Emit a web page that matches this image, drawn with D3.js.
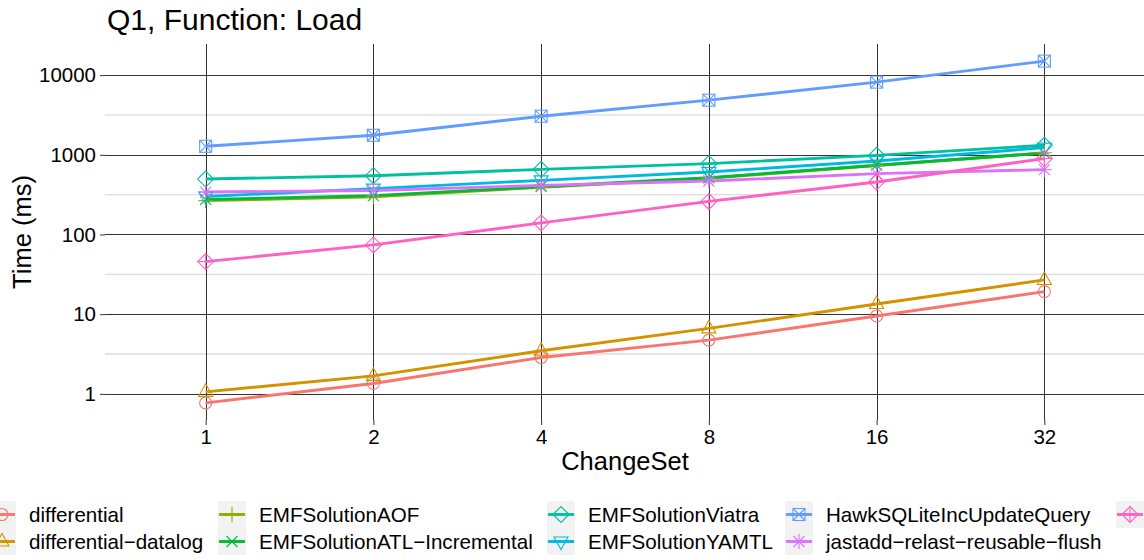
<!DOCTYPE html>
<html lang="en">
<head>
  <meta charset="UTF-8">
  <title>Q1, Function: Load</title>
  <script src="https://d3js.org/d3.v7.min.js"></script>
  <style>
    body { margin: 0; background: #fff; }
    text { font-family: "Liberation Sans", Arial, sans-serif; }
  </style>
</head>
<body>
  <div id="chart"></div>

  <script>
    // Data (Time in ms per ChangeSet)
    const changeSets = ["1", "2", "4", "8", "16", "32"];
    const seriesNames = [
      "differential", "differential\u2212datalog", "EMFSolutionAOF",
      "EMFSolutionATL\u2212Incremental", "EMFSolutionViatra", "EMFSolutionYAMTL",
      "HawkSQLiteIncUpdateQuery", "jastadd\u2212relast\u2212reusable\u2212flush",
      "NMF\u2212Incremental"
    ];
    const differential        = [0.77, 1.35, 2.86, 4.73, 9.49, 19.2];
    const differentialDatalog = [1.06, 1.68, 3.47, 6.63, 13.4, 26.9];
    const emfAOF              = [266, 298, 392, 508, 735, 1060];
    const emfATL              = [275, 307, 398, 515, 740, 1050];
    const emfViatra           = [496, 547, 657, 775, 985, 1316];
    const emfYAMTL            = [300, 376, 478, 608, 836, 1232];
    const hawk                = [1280, 1760, 3050, 4850, 8170, 15000];
    const jastaddFlush        = [341, 357, 413, 469, 580, 651];
    const nmf                 = [45.7, 74, 140, 260, 455, 896];
    const yTicks = [1, 10, 100, 1000, 10000];

    const allValues = [differential, differentialDatalog, emfAOF, emfATL, emfViatra,
                       emfYAMTL, hawk, jastaddFlush, nmf];
    const colors = ["#F8766D", "#D39200", "#93AA00", "#00BA38", "#00C19F",
                    "#00B9E3", "#619CFF", "#DB72FB", "#FF61C3"];

    const W = 1144, H = 560;
    const panel = {left: 105, right: 1145, top: 44, bottom: 420};

    const svg = d3.select("#chart").append("svg")
      .attr("width", W).attr("height", H)
      .style("display", "block");

    // discrete x, like ggplot (0.6 unit padding)
    const x = d3.scalePoint().domain(changeSets)
      .range([panel.left, panel.right]).padding(0.6);

    // log y with 5% expansion in log space
    const flat = allValues.flat();
    const lo = Math.log10(d3.min(flat)), hi = Math.log10(d3.max(flat));
    const pad = (hi - lo) * 0.05;
    const y = d3.scaleLog().domain([Math.pow(10, lo - pad), Math.pow(10, hi + pad)])
      .range([panel.bottom, panel.top]);

    // minor grid (half decades)
    const minor = d3.range(-1, 5).map(e => Math.pow(10, e + 0.5))
      .filter(v => y(v) > panel.top && y(v) < panel.bottom);
    svg.append("g").selectAll("line").data(minor).join("line")
      .attr("x1", panel.left).attr("x2", panel.right)
      .attr("y1", d => y(d)).attr("y2", d => y(d))
      .attr("stroke", "#dcdcdc").attr("stroke-width", 1.3);

    // major grid
    svg.append("g").selectAll("line").data(yTicks).join("line")
      .attr("x1", panel.left).attr("x2", panel.right)
      .attr("y1", d => Math.round(y(d)) + 0.5).attr("y2", d => Math.round(y(d)) + 0.5)
      .attr("stroke", "#333").attr("stroke-width", 1);
    svg.append("g").selectAll("line").data(changeSets).join("line")
      .attr("x1", d => Math.round(x(d)) + 0.5).attr("x2", d => Math.round(x(d)) + 0.5)
      .attr("y1", panel.top).attr("y2", panel.bottom)
      .attr("stroke", "#333").attr("stroke-width", 1);

    // axes
    const yAxis = svg.append("g")
      .attr("transform", `translate(${panel.left},0)`)
      .call(d3.axisLeft(y).tickValues(yTicks).tickFormat(d3.format("d"))
        .tickSize(5).tickPadding(4));
    const xAxis = svg.append("g")
      .attr("transform", `translate(0,${panel.bottom})`)
      .call(d3.axisBottom(x).tickSize(5).tickPadding(4));
    [yAxis, xAxis].forEach(a => {
      a.select(".domain").remove();
      a.selectAll(".tick line").attr("stroke", "#333");
      a.selectAll(".tick text").attr("fill", "#000")
        .style("font-size", "20.5px")
        .style("font-family", "'Liberation Sans', Arial, sans-serif");
    });

    // shape drawing, ggplot shapes 1..9
    function drawShape(g, i, color) {
      const s = g.append("g").attr("fill", "none").attr("stroke", color).attr("stroke-width", 1.1);
      const r = 6;
      const cross = (k) => {
        s.append("line").attr("x1", -k).attr("y1", -k).attr("x2", k).attr("y2", k);
        s.append("line").attr("x1", -k).attr("y1", k).attr("x2", k).attr("y2", -k);
      };
      const plus = (k) => {
        s.append("line").attr("x1", -k).attr("y1", 0).attr("x2", k).attr("y2", 0);
        s.append("line").attr("x1", 0).attr("y1", -k).attr("x2", 0).attr("y2", k);
      };
      const diamond = (k) => s.append("path").attr("d", `M0,${-k}L${k},0L0,${k}L${-k},0Z`);
      switch (i) {
        case 0: s.append("circle").attr("r", r); break;
        case 1: s.append("path").attr("d", "M0,-8L7,4.5L-7,4.5Z"); break;
        case 2: plus(7.5); break;
        case 3: cross(5.5); break;
        case 4: diamond(8); break;
        case 5: s.append("path").attr("d", "M0,8L7,-4.5L-7,-4.5Z"); break;
        case 6: s.append("rect").attr("x", -6).attr("y", -6).attr("width", 12).attr("height", 12); cross(6); break;
        case 7: plus(7.5); cross(5.5); break;
        case 8: diamond(8); plus(8); break;
      }
    }

    const line = d3.line().x((d, j) => x(changeSets[j])).y(d => y(d));

    // lines
    allValues.forEach((vals, i) => {
      svg.append("path").datum(vals)
        .attr("fill", "none").attr("stroke", colors[i])
        .attr("stroke-width", 2.9).attr("stroke-linejoin", "round")
        .attr("d", line);
    });
    // points
    allValues.forEach((vals, i) => {
      vals.forEach((v, j) => {
        const g = svg.append("g").attr("transform", `translate(${x(changeSets[j])},${y(v)})`);
        drawShape(g, i, colors[i]);
      });
    });

    // title and axis titles
    svg.append("text").attr("x", 107).attr("y", 30)
      .style("font-size", "30px").attr("fill", "#000").text("Q1, Function: Load");
    svg.append("text").attr("x", (panel.left + panel.right) / 2).attr("y", 470)
      .attr("text-anchor", "middle").style("font-size", "25.5px").attr("fill", "#000")
      .text("ChangeSet");
    svg.append("text")
      .attr("transform", `translate(31,${(panel.top + panel.bottom) / 2}) rotate(-90)`)
      .attr("text-anchor", "middle").style("font-size", "25.5px").attr("fill", "#000")
      .text("Time (ms)");

    // legend: 2 rows, filled by column; the last column runs off the page
    const legendColX = [-12, 218, 547, 785, 1116];
    const keyW = 28, keyH = 27, legendTop = 501;
    seriesNames.forEach((name, i) => {
      const col = Math.floor(i / 2), row = i % 2;
      const kx = legendColX[col], ky = legendTop + row * keyH;
      const g = svg.append("g").attr("transform", `translate(${kx},${ky})`);
      g.append("rect").attr("width", keyW).attr("height", keyH).attr("fill", "#f2f2f2");
      g.append("line").attr("x1", 1).attr("x2", keyW - 1)
        .attr("y1", keyH / 2).attr("y2", keyH / 2)
        .attr("stroke", colors[i]).attr("stroke-width", 2.9);
      drawShape(g.append("g").attr("transform", `translate(${keyW / 2},${keyH / 2})`), i, colors[i]);
      if (kx + keyW + 13 < W) {
        g.append("text").attr("x", keyW + 13).attr("y", keyH / 2 + 7)
          .style("font-size", "20.6px").attr("fill", "#000").text(name);
      }
    });
  </script>
</body>
</html>
